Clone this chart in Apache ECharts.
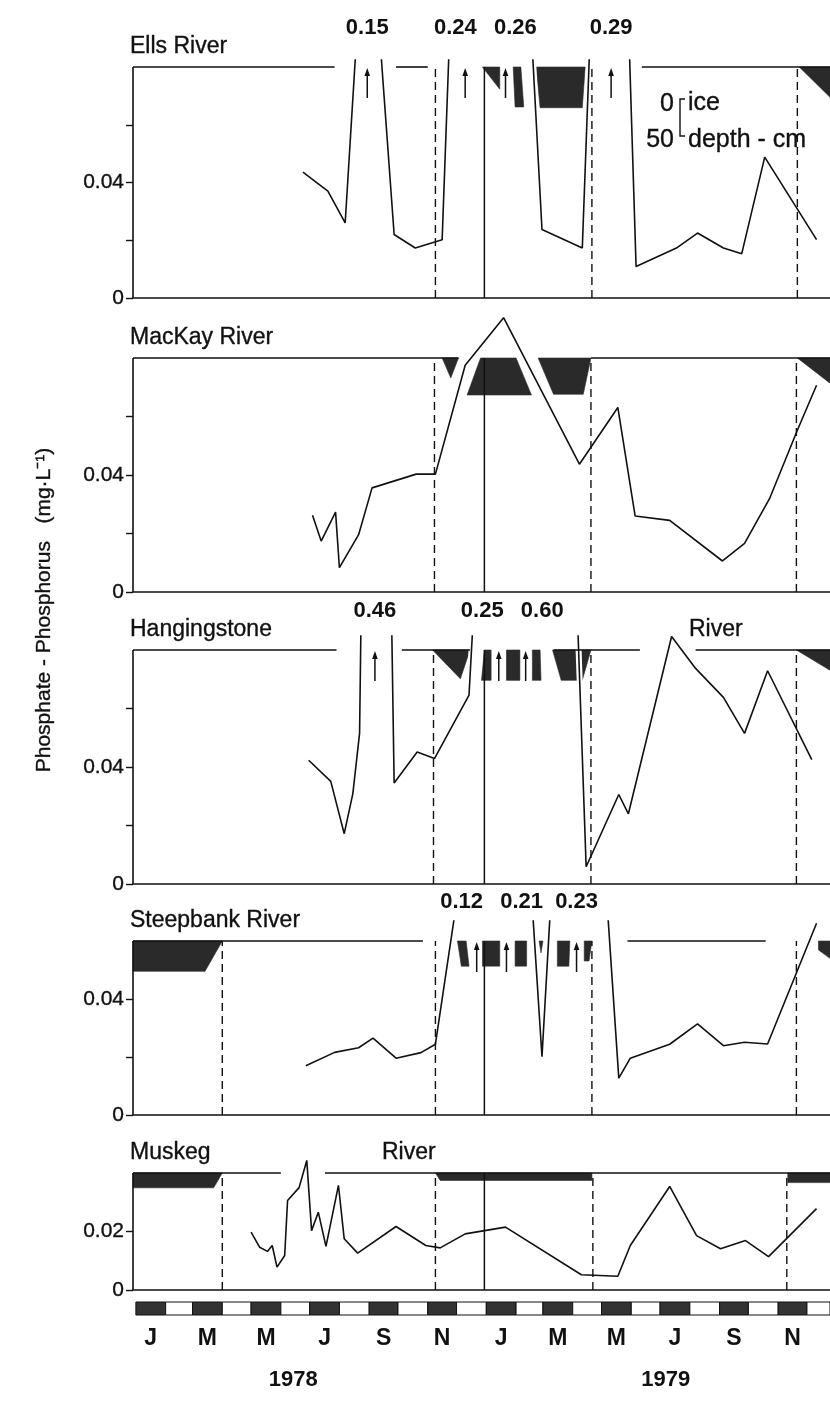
<!DOCTYPE html>
<html>
<head>
<meta charset="utf-8">
<script src="https://cdn.jsdelivr.net/npm/echarts@6/dist/echarts.min.js"></script>
<style>
  html, body { margin: 0; padding: 0; background: #fff; }
  #chart { width: 830px; height: 1404px; }
</style>
</head>
<body>
<div id="chart"></div>
<script>
// ---------------- data ----------------
// Phosphate-phosphorus (mg/L) by sampling date, 1978-1979

const ellsDates = ['1978-06-24','1978-07-20','1978-08-07','1978-08-30','1978-09-27','1978-10-19','1978-11-16','1978-12-10','1979-01-21','1979-02-28','1979-04-11','1979-05-11','1979-06-06','1979-07-18','1979-08-09','1979-09-05','1979-09-24','1979-10-18','1979-12-11'];
const ellsValues = [0.0436,0.037,0.026,0.15,0.022,0.0173,0.0202,0.24,0.26,0.0237,0.0173,0.29,0.0109,0.0173,0.0225,0.0173,0.0153,0.0488,0.0202];

const mackayDates = ['1978-07-04','1978-07-13','1978-07-28','1978-08-01','1978-08-21','1978-09-04','1978-10-20','1978-11-09','1978-12-10','1979-01-19','1979-04-08','1979-05-18','1979-06-05','1979-07-11','1979-09-04','1979-09-27','1979-10-23','1979-11-21','1979-12-11'];
const mackayValues = [0.0262,0.0174,0.0273,0.0083,0.0196,0.0356,0.0403,0.0403,0.0775,0.0938,0.0437,0.0631,0.026,0.0245,0.0106,0.0166,0.0319,0.0553,0.0707];

const hangDates = ['1978-06-30','1978-07-23','1978-08-06','1978-08-15','1978-08-22','1978-09-07','1978-09-27','1978-10-21','1978-11-08','1978-12-14','1979-01-14','1979-02-11','1979-04-15','1979-05-19','1979-05-29','1979-07-13','1979-08-07','1979-09-05','1979-09-27','1979-10-21','1979-12-06'];
const hangValues = [0.0423,0.0351,0.0172,0.0309,0.0515,0.46,0.0345,0.0451,0.0429,0.0646,0.25,0.60,0.0059,0.0306,0.024,0.0846,0.0737,0.0638,0.0515,0.0729,0.0425];

const steepDates = ['1978-06-27','1978-07-27','1978-08-21','1978-09-05','1978-09-29','1978-10-25','1978-11-09','1978-12-22','1979-01-22','1979-02-28','1979-04-05','1979-05-19','1979-05-31','1979-07-11','1979-08-09','1979-09-05','1979-09-27','1979-10-21','1979-12-11'];
const steepValues = [0.017,0.0216,0.0232,0.0265,0.0196,0.0215,0.0244,0.12,0.21,0.0201,0.23,0.0127,0.0196,0.0244,0.0314,0.0239,0.0251,0.0245,0.0661];

const muskegDates = ['1978-05-01','1978-05-10','1978-05-18','1978-05-23','1978-05-28','1978-06-05','1978-06-08','1978-06-20','1978-06-28','1978-07-03','1978-07-10','1978-07-18','1978-07-31','1978-08-06','1978-08-20','1978-09-29','1978-10-30','1978-11-14','1978-12-10','1979-01-21','1979-04-10','1979-05-18','1979-05-31','1979-07-11','1979-08-08','1979-09-02','1979-09-28','1979-10-22','1979-12-11'];
const muskegValues = [0.0198,0.0146,0.0132,0.0152,0.0078,0.0118,0.0306,0.035,0.0443,0.0203,0.0266,0.0149,0.0358,0.0175,0.0126,0.0217,0.0152,0.0144,0.0192,0.0215,0.0052,0.0047,0.0152,0.0354,0.0186,0.0141,0.0169,0.0114,0.0278];

// Samples at or above this concentration are drawn off the scale and annotated
const OFF_SCALE = 0.1;

// Ice cover outlines: [date, depth below surface in cm]
const ellsIce = [
  [['1978-12-28',0],['1979-01-15',0],['1979-01-15',30]],
  [['1979-01-29',0],['1979-02-06',0],['1979-02-09',54],['1979-01-31',54]],
  [['1979-02-22',0],['1979-04-14',0],['1979-04-11',55],['1979-02-26',55]],
  [['1979-11-23',0],['1980-01-05',0],['1980-01-05',55]]
];
const mackayIce = [
  [['1978-11-16',0],['1978-12-03',0],['1978-11-25',27]],
  [['1978-12-26',0],['1979-02-01',0],['1979-02-17',50],['1978-12-12',50]],
  [['1979-02-24',0],['1979-04-20',0],['1979-04-12',49],['1979-03-12',49]],
  [['1979-11-21',0],['1980-01-05',0],['1980-01-05',45]]
];
const hangIce = [
  [['1978-11-06',0],['1978-12-15',0],['1978-12-05',39]],
  [['1978-12-30',0],['1979-01-06',0],['1979-01-06',41],['1978-12-27',41]],
  [['1979-01-22',0],['1979-02-05',0],['1979-02-05',41],['1979-01-22',41]],
  [['1979-02-18',0],['1979-02-26',0],['1979-02-27',41],['1979-02-18',41]],
  [['1979-03-11',0],['1979-04-20',0],['1979-04-11',41],['1979-03-20',41]],
  [['1979-11-20',0],['1980-01-05',0],['1980-01-05',36]]
];
const steepIce = [
  [['1977-12-29',0],['1978-04-01',0],['1978-03-14',41],['1977-12-29',41]],
  [['1978-12-02',0],['1978-12-11',0],['1978-12-14',34],['1978-12-06',34]],
  [['1978-12-28',0],['1979-01-15',0],['1979-01-15',34],['1978-12-28',34]],
  [['1979-01-31',0],['1979-02-12',0],['1979-02-12',34],['1979-01-31',34]],
  [['1979-02-25',0],['1979-03-01',0],['1979-02-27',16]],
  [['1979-03-16',0],['1979-03-29',0],['1979-03-28',34],['1979-03-16',34]],
  [['1979-04-13',0],['1979-04-21',0],['1979-04-18',27],['1979-04-13',27]],
  [['1979-12-13',0],['1980-01-05',0],['1980-01-05',34],['1979-12-13',12]]
];
const muskegIce = [
  [['1977-12-29',0],['1978-04-01',0],['1978-03-23',20],['1977-12-29',20]],
  [['1978-11-09',0],['1979-04-21',0],['1979-04-21',10],['1978-11-14',10]],
  [['1979-11-11',0],['1980-01-05',0],['1980-01-05',13],['1979-11-11',13]]
];

// Open stretches of the upper frame line: [from, to]
const ellsFrame = [['1977-12-29','1978-07-27'],['1978-09-29','1978-11-01'],['1979-06-12','1979-12-25']];
const mackayFrame = [['1977-12-29','1978-12-03'],['1979-04-20','1979-12-25']];
const hangFrame = [['1977-12-29','1978-07-29'],['1978-10-05','1978-12-15'],['1979-03-12','1979-06-10'],['1979-08-07','1979-12-25']];
const steepFrame = [['1977-12-29','1978-10-27'],['1979-05-28','1979-10-19']];
const muskegFrame = [['1977-12-29','1978-06-01'],['1978-07-17','1979-12-25']];

// Break-up / freeze-up dates (dashed) and the turn of the year (solid)
const ellsIceDates = ['1978-11-09','1979-04-21','1979-11-21'];
const mackayIceDates = ['1978-11-08','1979-04-20','1979-11-20'];
const hangIceDates = ['1978-11-07','1979-04-20','1979-11-20'];
const steepIceDates = ['1978-04-01','1978-11-09','1979-04-21','1979-11-20'];
const muskegIceDates = ['1978-04-01','1978-11-09','1979-04-22','1979-11-10'];
const yearTurn = '1978-12-30';

const riverNames = [['Ells River'], ['MacKay River'], ['Hangingstone', 'River'], ['Steepbank River'], ['Muskeg', 'River']];
const monthTickLabels = ['J','M','M','J','S','N','J','M','M','J','S','N'];
const yearLabels = ['1978', '1979'];
const yearLabelDates = ['1978-06-14', '1979-07-07'];

// ---------------- layout / style ----------------
const FONT = '"Liberation Sans", Arial, Helvetica, sans-serif';
const INK = '#111';
const ICE = '#2a2a2a';
const t = s => Date.parse(s + 'T00:00:00Z');
const X_MIN = t('1977-12-29'), X_MAX = t('1979-12-25');
const GRID_LEFT = 133, CANVAS_W = 830;
const PX_PER_MS = (CANVAS_W - GRID_LEFT) / (X_MAX - X_MIN);
const PX_PER_CM = 0.74;
const LABEL_GAP = 60;

const panels = [
  { dates: ellsDates, values: ellsValues, top: 0.08, ticks: [0, 0.02, 0.04, 0.06], labels: [0, 0.04], ice: ellsIce, frame: ellsFrame, marks: ellsIceDates },
  { dates: mackayDates, values: mackayValues, top: 0.08, ticks: [0, 0.02, 0.04, 0.06], labels: [0, 0.04], ice: mackayIce, frame: mackayFrame, marks: mackayIceDates },
  { dates: hangDates, values: hangValues, top: 0.08, ticks: [0, 0.02, 0.04, 0.06], labels: [0, 0.04], ice: hangIce, frame: hangFrame, marks: hangIceDates },
  { dates: steepDates, values: steepValues, top: 0.06, ticks: [0, 0.02, 0.04], labels: [0, 0.04], ice: steepIce, frame: steepFrame, marks: steepIceDates },
  { dates: muskegDates, values: muskegValues, top: 0.04, ticks: [0, 0.02], labels: [0, 0.02], ice: muskegIce, frame: muskegFrame, marks: muskegIceDates }
];
const layout = [
  { topPx: 67, zeroPx: 298, clipPx: 60, titleX: [130] },
  { topPx: 358, zeroPx: 592, clipPx: 314, titleX: [130] },
  { topPx: 650, zeroPx: 884, clipPx: 636, titleX: [130, 689] },
  { topPx: 941, zeroPx: 1115, clipPx: 921, titleX: [130] },
  { topPx: 1173, zeroPx: 1290, clipPx: 1157, titleX: [130, 382] }
];
const BAND = { top: 1302, height: 13, monthY: 1339, yearY: 1380 };

function text(x, y, str, size, extra) {
  return Object.assign({
    text: str, x: x, y: y, fill: INK, fontSize: size, fontFamily: FONT,
    stroke: INK, lineWidth: 0.35,
    align: 'center', verticalAlign: 'middle', textAlign: 'center', textVerticalAlign: 'middle'
  }, extra || {});
}

// spread value labels of neighbouring off-scale points so they do not overlap
function labelOffsets(times) {
  const px = times.map(v => (v - X_MIN) * PX_PER_MS);
  const out = new Array(px.length).fill(0);
  let i = 0;
  while (i < px.length) {
    let j = i;
    while (j + 1 < px.length && px[j + 1] - px[j] < LABEL_GAP) j++;
    const n = j - i + 1;
    const c = px.slice(i, j + 1).reduce((a, b) => a + b, 0) / n;
    for (let k = 0; k < n; k++) out[i + k] = c + (k - (n - 1) / 2) * LABEL_GAP - px[i + k];
    i = j + 1;
  }
  return out;
}

const grids = [], xAxes = [], yAxes = [], series = [], graphics = [];

panels.forEach((p, i) => {
  const L = layout[i];
  const valPerPx = p.top / (L.zeroPx - L.topPx);
  const yMax = p.top + (L.topPx - L.clipPx) * valPerPx;
  grids.push({ left: GRID_LEFT, width: CANVAS_W - GRID_LEFT, top: L.clipPx, height: L.zeroPx - L.clipPx });
  xAxes.push({
    gridIndex: i, type: 'time', min: X_MIN, max: X_MAX, z: 6,
    axisLine: { show: true, onZero: false, lineStyle: { color: INK, width: 1.6 } },
    axisTick: { show: false }, axisLabel: { show: false }, splitLine: { show: false }
  });
  yAxes.push({
    gridIndex: i, type: 'value', min: 0, max: yMax,
    axisLine: { show: false },
    axisTick: { show: true, length: 7, customValues: p.ticks, lineStyle: { color: INK, width: 1.4 } },
    axisLabel: { show: true, customValues: p.labels, margin: 9, color: INK, fontSize: 21, fontFamily: FONT,
      textBorderColor: INK, textBorderWidth: 0.35,
      formatter: v => (v === 0 ? '0' : v.toFixed(2)) },
    splitLine: { show: false }
  });

  // ice cover
  series.push({
    type: 'custom', xAxisIndex: i, yAxisIndex: i, z: 1, silent: true,
    data: p.ice.map(poly => [t(poly[0][0]), p.top]),
    renderItem: (params, api) => {
      const poly = p.ice[params.dataIndex];
      const pts = poly.map(([d, cm]) => {
        const c = api.coord([t(d), p.top]);
        return [c[0], c[1] + cm * PX_PER_CM];
      });
      return { type: 'polygon', shape: { points: pts }, style: { fill: ICE, stroke: ICE, lineWidth: 0.6 } };
    }
  });

  const lineData = p.dates.map((d, k) => [t(d), p.values[k]]);

  // white margin so the trace reads clearly across the ice blocks
  series.push({
    type: 'line', xAxisIndex: i, yAxisIndex: i, z: 2, silent: true, symbol: 'none',
    data: lineData, lineStyle: { color: '#fff', width: 6 }, clip: true, animation: false
  });

  // frame: left edge and open stretches of the upper line
  const segs = [[X_MIN, 0, X_MIN, p.top]].concat(p.frame.map(s => [t(s[0]), p.top, t(s[1]), p.top]));
  series.push({
    type: 'custom', xAxisIndex: i, yAxisIndex: i, z: 3, silent: true,
    data: segs, encode: { x: [0, 2], y: [1, 3] },
    renderItem: (params, api) => {
      const a = api.coord([api.value(0), api.value(1)]);
      const b = api.coord([api.value(2), api.value(3)]);
      return { type: 'line', shape: { x1: a[0], y1: a[1], x2: b[0], y2: b[1] }, style: { stroke: INK, lineWidth: 1.6 } };
    }
  });

  // ice-on / ice-off dates (dashed) and the year boundary (solid)
  const markData = p.marks.map(d => [t(d), 0]).concat([[t(yearTurn), 1]]);
  series.push({
    type: 'custom', xAxisIndex: i, yAxisIndex: i, z: 3, silent: true,
    data: markData, encode: { x: 0 },
    renderItem: (params, api) => {
      const solid = api.value(1) === 1;
      const a = api.coord([api.value(0), 0]);
      const b = api.coord([api.value(0), p.top]);
      return { type: 'line', shape: { x1: a[0], y1: a[1], x2: b[0], y2: b[1] },
        style: { stroke: INK, lineWidth: solid ? 1.5 : 1.4, lineDash: solid ? null : [8, 5] } };
    }
  });

  // off-scale samples: arrow plus the measured value
  const off = lineData.filter(d => d[1] >= OFF_SCALE);
  if (off.length) {
    const dx = labelOffsets(off.map(d => d[0]));
    series.push({
      type: 'custom', xAxisIndex: i, yAxisIndex: i, z: 4, silent: true, clip: false,
      data: off.map((d, k) => [d[0], d[1], dx[k]]), encode: { x: 0 },
      renderItem: (params, api) => {
        const c = api.coord([api.value(0), p.top]);
        const x = c[0], y = c[1];
        return { type: 'group', children: [
          { type: 'line', shape: { x1: x, y1: y + 31, x2: x, y2: y + 6 }, style: { stroke: INK, lineWidth: 1.5 } },
          { type: 'polygon', shape: { points: [[x, y + 1], [x - 2.8, y + 9], [x + 2.8, y + 9]] }, style: { fill: INK } },
          { type: 'text', style: text(x + api.value(2), y - 39, api.value(1).toFixed(2), 22, { fontWeight: 'bold', lineWidth: 0 }) }
        ] };
      }
    });
  }

  // concentration trace
  series.push({
    type: 'line', xAxisIndex: i, yAxisIndex: i, z: 5, silent: true, symbol: 'none',
    data: lineData, lineStyle: { color: INK, width: 1.6 }, clip: true, animation: false
  });

  // river name
  riverNames[i].forEach((name, k) => {
    graphics.push({ type: 'text', silent: true,
      style: text(L.titleX[k], L.topPx - 20, name, 23, { align: 'left', textAlign: 'left' }) });
  });
});

// month strip under the last panel
const bandIdx = panels.length;
grids.push({ left: GRID_LEFT, width: CANVAS_W - GRID_LEFT, top: BAND.top, height: BAND.height });
xAxes.push({ gridIndex: bandIdx, type: 'time', min: X_MIN, max: X_MAX, show: false });
yAxes.push({ gridIndex: bandIdx, type: 'value', min: 0, max: 1, show: false });
const months = [];
for (let m = 0; m < 24; m++) months.push([Date.UTC(1978, m, 1), Date.UTC(1978, m + 1, 1), m]);
series.push({
  type: 'custom', xAxisIndex: bandIdx, yAxisIndex: bandIdx, silent: true, clip: false,
  data: months, encode: { x: [0, 1] },
  renderItem: (params, api) => {
    const m = api.value(2);
    const a = api.coord([api.value(0), 1]);
    const b = api.coord([Math.min(api.value(1), X_MAX), 0]);
    const children = [{ type: 'rect', shape: { x: a[0], y: a[1], width: b[0] - a[0], height: b[1] - a[1] },
      style: { fill: m % 2 === 0 ? '#333' : '#fff', stroke: INK, lineWidth: 1 } }];
    if (m % 2 === 0) {
      const mid = api.coord([(api.value(0) + api.value(1)) / 2, 0]);
      children.push({ type: 'text', style: text(mid[0], BAND.monthY, monthTickLabels[m / 2], 23, { fontWeight: 'bold', lineWidth: 0 }) });
    }
    return { type: 'group', children };
  }
});
series.push({
  type: 'custom', xAxisIndex: bandIdx, yAxisIndex: bandIdx, silent: true, clip: false,
  data: yearLabelDates.map((d, k) => [t(d), k]), encode: { x: 0 },
  renderItem: (params, api) => {
    const c = api.coord([api.value(0), 0]);
    return { type: 'text', style: text(c[0], BAND.yearY, yearLabels[api.value(1)], 22, { fontWeight: 'bold', lineWidth: 0 }) };
  }
});

// axis title
graphics.push({ type: 'text', x: 44, y: 610, rotation: Math.PI / 2, silent: true,
  style: text(0, 0, 'Phosphate - Phosphorus   (mg\u00B7L\u207B\u00B9)', 21) });

// ice depth key
graphics.push({ type: 'text', silent: true, style: text(674, 104, '0', 25, { align: 'right', textAlign: 'right' }) });
graphics.push({ type: 'text', silent: true, style: text(688, 103, 'ice', 25, { align: 'left', textAlign: 'left' }) });
graphics.push({ type: 'text', silent: true, style: text(674, 140, '50', 25, { align: 'right', textAlign: 'right' }) });
graphics.push({ type: 'text', silent: true, style: text(688, 140, 'depth - cm', 25, { align: 'left', textAlign: 'left' }) });
graphics.push({ type: 'polyline', silent: true,
  shape: { points: [[685, 99], [680, 99], [680, 99 + 50 * PX_PER_CM], [685, 99 + 50 * PX_PER_CM]] },
  style: { stroke: INK, lineWidth: 1.4, fill: null } });

const chart = echarts.init(document.getElementById('chart'), null, { renderer: 'canvas' });
chart.setOption({
  useUTC: true,
  animation: false,
  backgroundColor: '#fff',
  grid: grids,
  xAxis: xAxes,
  yAxis: yAxes,
  series: series,
  graphic: { elements: graphics }
});
</script>
</body>
</html>
